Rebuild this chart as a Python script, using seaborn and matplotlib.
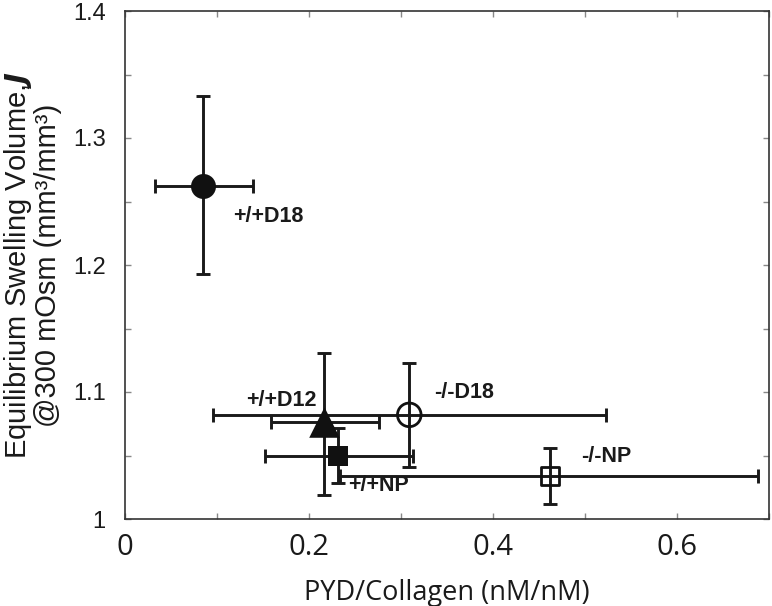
import numpy as np
import pandas as pd
import matplotlib.pyplot as plt
import seaborn as sns

# values
groups = ["+/+D18", "+/+D12", "-/-D18", "+/+NP", "-/-NP"]
pyd = [0.085, 0.216, 0.309, 0.232, 0.462]
pyd_lo = [0.033, 0.159, 0.096, 0.152, 0.234]
pyd_hi = [0.139, 0.276, 0.523, 0.313, 0.688]
swell = [1.262, 1.076, 1.082, 1.050, 1.034]
swell_lo = [1.193, 1.019, 1.041, 1.028, 1.012]
swell_hi = [1.333, 1.131, 1.123, 1.072, 1.056]

markers = ["o", "^", "o", "s", "s"]
filled = [True, True, False, True, False]
msizes = [18, 22, 17, 14, 13]
label_pos = [(0.117, 1.238), (0.132, 1.093), (0.336, 1.0995), (0.242, 1.026), (0.496, 1.049)]

df = pd.DataFrame({"group": groups, "pyd": pyd, "swell": swell})

sns.set_style("ticks")
fig = plt.figure(figsize=(7.72, 6.06), dpi=100)
ax = fig.add_axes([125 / 772, 1 - 519 / 606, 644 / 772, 508 / 606])

for i, g in enumerate(groups):
    xerr = [[pyd[i] - pyd_lo[i]], [pyd_hi[i] - pyd[i]]]
    yerr = [[swell[i] - swell_lo[i]], [swell_hi[i] - swell[i]]]
    ax.errorbar(pyd[i], swell[i], xerr=xerr, yerr=yerr, fmt="none",
                ecolor="#1a1a1a", elinewidth=2.1, capsize=5, capthick=2.1, zorder=2)

for i, g in enumerate(groups):
    sub = df[df["group"] == g]
    sns.scatterplot(data=sub, x="pyd", y="swell", marker=markers[i], s=msizes[i] ** 2,
                    color="#111111" if filled[i] else "none",
                    edgecolor="#111111", linewidth=0 if filled[i] else 2.0,
                    ax=ax, zorder=3, legend=False)
    ax.text(label_pos[i][0], label_pos[i][1], g, fontsize=15.5, fontweight="bold",
            family="Liberation Sans", color="#1a1a1a", ha="left", va="center")

ax.set_xlim(0, 0.7)
ax.set_ylim(1.0, 1.4)
ax.set_xticks(np.arange(0, 0.71, 0.1))
ax.set_xticklabels(["0", "", "0.2", "", "0.4", "", "0.6", ""])
ax.set_yticks(np.arange(1.0, 1.401, 0.05))
ax.set_yticklabels(["1", "", "1.1", "", "1.2", "", "1.3", "", "1.4"])
ax.tick_params(direction="in", length=4, width=1, color="#888888",
               top=True, right=True)
ax.tick_params(axis="x", pad=10)
ax.tick_params(axis="y", pad=14)
for lab in ax.get_xticklabels():
    lab.set_fontfamily("Open Sans")
    lab.set_fontsize(21)
    lab.set_color("#1a1a1a")
for lab in ax.get_yticklabels():
    lab.set_fontfamily("Liberation Sans")
    lab.set_fontsize(17)
    lab.set_color("#1a1a1a")
for sp in ax.spines.values():
    sp.set_color("#333333")
    sp.set_linewidth(1.2)

ax.set_xlabel("PYD/Collagen (nM/nM)", fontsize=19.5, family="Open Sans", color="#1a1a1a", labelpad=12)
ax.set_ylabel("Equilibrium Swelling Volume,$\\boldsymbol{J}$\n@300 mOsm (mm³/mm³)", fontsize=21,
              family="Liberation Sans", color="#1a1a1a", labelpad=8, linespacing=1.0)

fig.savefig("out.png", dpi=100)
